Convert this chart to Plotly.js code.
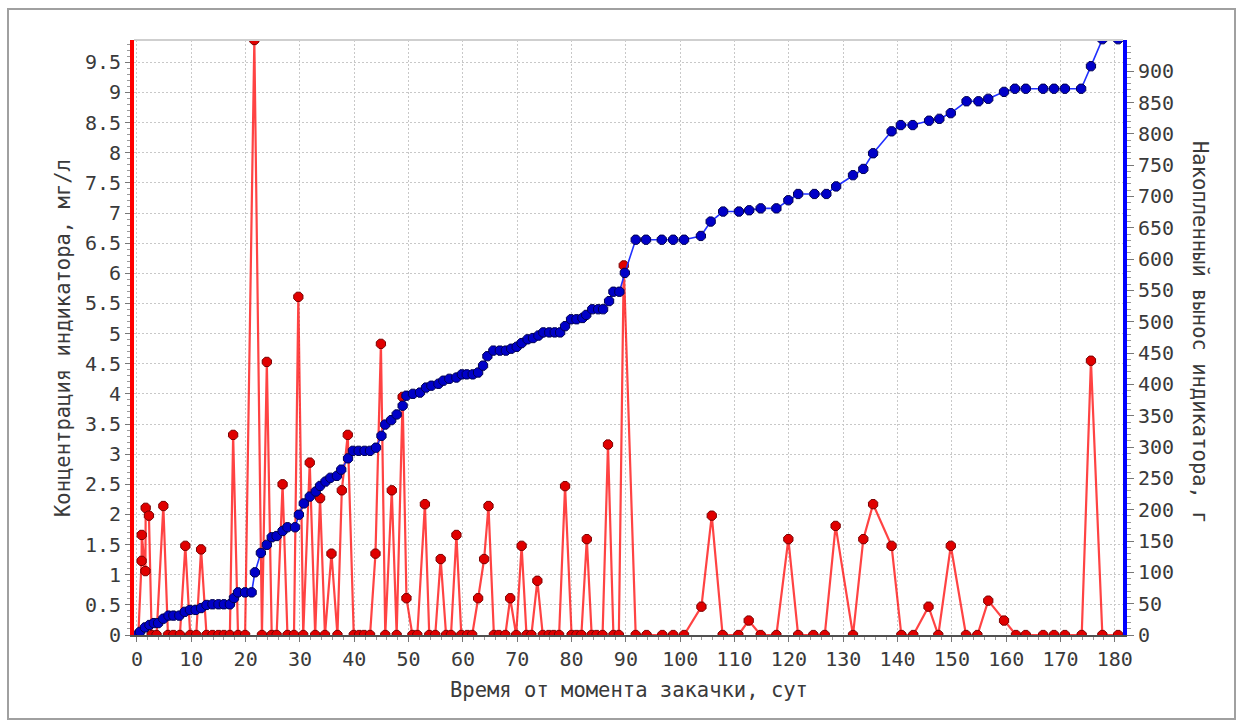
<!DOCTYPE html>
<html>
<head>
<meta charset="utf-8">
<script src="https://cdn.plot.ly/plotly-3.0.1.min.js"></script>
<style>
  html, body { margin: 0; padding: 0; background: #ffffff; }
  #chart { width: 1242px; height: 726px; }
</style>
</head>
<body>
<div id="chart"></div>
<script>
// Concentration of the tracer, mg/l (red, left axis)
const concDays = [0.25, 0.85, 0.87, 1.55, 1.6, 2.2, 2.7, 3.6, 4.85, 5.7, 6.7, 7.9, 8.9, 9.8, 10.9, 11.8, 12.8, 13.9, 15, 16, 17.1, 17.7, 18.6, 19.9, 21.6, 23.0, 23.9, 24.8, 25.7, 26.8, 27.7, 28.9, 29.7, 30.6, 31.8, 32.8, 33.7, 34.6, 35.8, 36.9, 37.7, 38.8, 39.9, 40.9, 41.8, 42.9, 43.9, 44.9, 45.7, 46.9, 47.8, 48.9, 49.6, 50.7, 51.6, 53, 53.8, 54.9, 55.9, 56.9, 57.8, 58.8, 59.7, 60.8, 61.7, 62.8, 63.9, 64.7, 65.7, 66.6, 67.8, 68.7, 69.8, 70.8, 71.7, 72.6, 73.7, 74.7, 75.8, 76.7, 77.7, 78.8, 80, 80.9, 81.8, 82.8, 83.7, 84.6, 85.7, 86.7, 87.7, 88.7, 89.6, 91.8, 93.8, 96.7, 98.7, 100.7, 103.9, 105.8, 107.8, 110.7, 112.6, 114.8, 117.7, 119.9, 121.7, 124.5, 126.6, 128.6, 131.8, 133.7, 135.5, 138.9, 140.7, 142.9, 145.7, 147.5, 149.8, 152.6, 154.7, 156.7, 159.6, 161.8, 163.6, 166.8, 168.8, 170.8, 173.9, 175.6, 177.7, 180.6];
const concValues = [0, 1.23, 1.66, 1.06, 2.11, 1.98, 0, 0, 2.14, 0, 0, 0, 1.48, 0, 0, 1.42, 0, 0, 0, 0, 0, 3.32, 0, 0, 9.87, 0, 4.53, 0, 0, 2.5, 0, 0, 5.61, 0, 2.86, 0, 2.27, 0, 1.35, 0, 2.4, 3.32, 0, 0, 0, 0, 1.35, 4.83, 0, 2.4, 0, 3.95, 0.61, 0, 0, 2.17, 0, 0, 1.26, 0, 0, 1.66, 0, 0, 0, 0.61, 1.26, 2.14, 0, 0, 0, 0.61, 0, 1.48, 0, 0, 0.9, 0, 0, 0, 0, 2.47, 0, 0, 0, 1.59, 0, 0, 0, 3.16, 0, 0, 6.13, 0, 0, 0, 0, 0, 0.47, 1.98, 0, 0, 0.24, 0, 0, 1.59, 0, 0, 0, 1.81, 0, 1.59, 2.17, 1.48, 0, 0, 0.47, 0, 1.48, 0, 0, 0.57, 0.24, 0, 0, 0, 0, 0, 0, 4.55, 0, 0];

// Accumulated tracer output, g (blue, right axis)
const cumDays = [0, 0.55, 1.47, 2.3, 3.1, 3.9, 4.85, 5.8, 6.7, 7.8, 8.8, 9.75, 10.8, 11.8, 12.8, 13.9, 15, 16, 17.1, 17.85, 18.6, 19.9, 21.1, 21.7, 22.8, 23.9, 24.8, 25.7, 26.8, 27.7, 29.1, 29.8, 30.7, 31.8, 32.9, 33.7, 34.7, 35.6, 36.8, 37.6, 38.85, 39.75, 40.8, 41.9, 42.9, 44, 45, 45.7, 46.8, 47.8, 48.9, 49.6, 50.8, 52.1, 53.2, 54.2, 55.5, 56.4, 57.5, 58.8, 59.8, 60.7, 61.8, 62.8, 63.7, 64.5, 65.6, 66.8, 67.9, 68.9, 69.9, 70.8, 71.9, 72.9, 73.9, 74.8, 75.9, 76.9, 77.9, 78.8, 79.9, 80.9, 82, 82.7, 83.8, 84.9, 85.8, 86.9, 87.7, 88.8, 89.8, 91.8, 93.7, 96.6, 98.7, 100.7, 103.8, 105.6, 107.9, 110.8, 112.7, 114.8, 117.7, 119.9, 121.7, 124.7, 126.9, 128.7, 131.8, 133.7, 135.5, 138.9, 140.6, 142.8, 145.8, 147.7, 149.8, 152.7, 154.9, 156.7, 159.6, 161.6, 163.6, 166.8, 168.8, 170.8, 173.8, 175.6, 177.7, 180.6];
const cumValues = [0, 5, 12, 16, 19, 19, 26, 31, 31, 31, 37, 40, 40, 43, 48, 49, 49, 49, 49, 59, 68, 68, 68, 100, 131, 144, 156, 158, 166, 172, 172, 192, 210, 221, 229, 238, 245, 251, 254, 264, 282, 294, 294, 294, 294, 299, 318, 336, 343, 352, 366, 382, 385, 387, 395, 398, 401, 406, 409, 411, 416, 416, 416, 419, 430, 445, 454, 454, 454, 457, 460, 466, 472, 474, 478, 483, 483, 483, 483, 493, 504, 504, 506, 511, 520, 520, 520, 533, 548, 548, 578, 631, 631, 631, 631, 631, 637, 660, 676, 676, 678, 681, 681, 694, 704, 704, 704, 716, 734, 744, 769, 804, 814, 814, 821, 824, 833, 852, 852, 856, 867, 872, 872, 872, 872, 872, 872, 908, 951, 951];

const xTitle = "Время от момента закачки, сут";
const yTitle = "Концентрация индикатора, мг/л";
const y2Title = "Накопленный вынос индикатора, г";

const FONT = "DejaVu Sans Mono, monospace";
const TXT = "#3a3a3a";

const L = 134, R = 119, T = 40, B = 91, W = 1242, H = 726;
const pw = W - L - R, ph = H - T - B;
const px = v => (v - L) / pw;
const py = v => (H - B - v) / ph;

const traces = [
  {
    x: concDays, y: concValues, type: "scatter", mode: "lines+markers",
    line: { color: "rgba(255,20,20,0.8)", width: 2.2 },
    marker: { symbol: "octagon", size: 10, color: "#e00000", line: { color: "#7a0000", width: 1 } },
    yaxis: "y", hoverinfo: "x+y", showlegend: false
  },
  {
    x: cumDays, y: cumValues, type: "scatter", mode: "lines+markers",
    line: { color: "#2030ff", width: 1.6 },
    marker: { symbol: "octagon", size: 10, color: "#0000c8", line: { color: "#000050", width: 1 } },
    yaxis: "y2", hoverinfo: "x+y", showlegend: false
  }
];

const layout = {
  width: W, height: H,
  margin: { l: L, r: R, t: T, b: B, pad: 0 },
  paper_bgcolor: "#ffffff",
  plot_bgcolor: "#ffffff",
  font: { family: FONT, size: 20, color: TXT },
  showlegend: false,
  xaxis: {
    range: [-0.55, 181.5], dtick: 10, tick0: 0,
    showgrid: true, gridcolor: "#c8c8c8", griddash: "2px,2px", gridwidth: 1,
    zeroline: false,
    showline: true, linecolor: "#505050", linewidth: 2,
    ticks: "outside", ticklen: 5, tickcolor: "#777", tickwidth: 1,
    minor: { dtick: 2, ticks: "outside", ticklen: 3, tickcolor: "#999", showgrid: false },
    tickfont: { family: FONT, size: 20, color: TXT },
    fixedrange: true
  },
  yaxis: {
    range: [0, 9.87], dtick: 0.5, tick0: 0,
    showgrid: true, gridcolor: "#c8c8c8", griddash: "2px,2px", gridwidth: 1,
    zeroline: false,
    showline: true, linecolor: "#ff0000", linewidth: 4,
    ticks: "outside", ticklen: 5, tickcolor: "#777", tickwidth: 1,
    minor: { dtick: 0.1, ticks: "outside", ticklen: 3, tickcolor: "#999", showgrid: false },
    tickfont: { family: FONT, size: 20, color: TXT },
    fixedrange: true
  },
  yaxis2: {
    overlaying: "y", side: "right",
    range: [0, 949.8], dtick: 50, tick0: 0,
    showgrid: false, zeroline: false,
    showline: true, linecolor: "#0000ff", linewidth: 4,
    ticks: "outside", ticklen: 7, tickcolor: "#777", tickwidth: 1,
    minor: { dtick: 10, ticks: "outside", ticklen: 4, tickcolor: "#999" },
    tickfont: { family: FONT, size: 20, color: TXT },
    fixedrange: true
  },
  shapes: [
    { type: "line", xref: "paper", yref: "paper", x0: 0, x1: 1, y0: 1, y1: 1,
      line: { color: "#cfcfcf", width: 2 } },
    { type: "rect", xref: "paper", yref: "paper", layer: "below",
      x0: px(8), x1: px(1235), y0: py(719), y1: py(9),
      line: { color: "#a0a0a0", width: 2 }, fillcolor: "rgba(0,0,0,0)" }
  ],
  annotations: [
    { text: xTitle, xref: "paper", yref: "paper", x: 0.5, y: py(690),
      xanchor: "center", yanchor: "middle", showarrow: false,
      font: { family: FONT, size: 20.5, color: TXT } },
    { text: yTitle, xref: "paper", yref: "paper", x: px(63), y: py(338),
      xanchor: "center", yanchor: "middle", showarrow: false, textangle: -90,
      font: { family: FONT, size: 20.5, color: TXT } },
    { text: y2Title, xref: "paper", yref: "paper", x: px(1200), y: py(332),
      xanchor: "center", yanchor: "middle", showarrow: false, textangle: 90,
      font: { family: FONT, size: 20.5, color: TXT } }
  ]
};

Plotly.newPlot("chart", traces, layout, { displayModeBar: false, staticPlot: true });
</script>
</body>
</html>
